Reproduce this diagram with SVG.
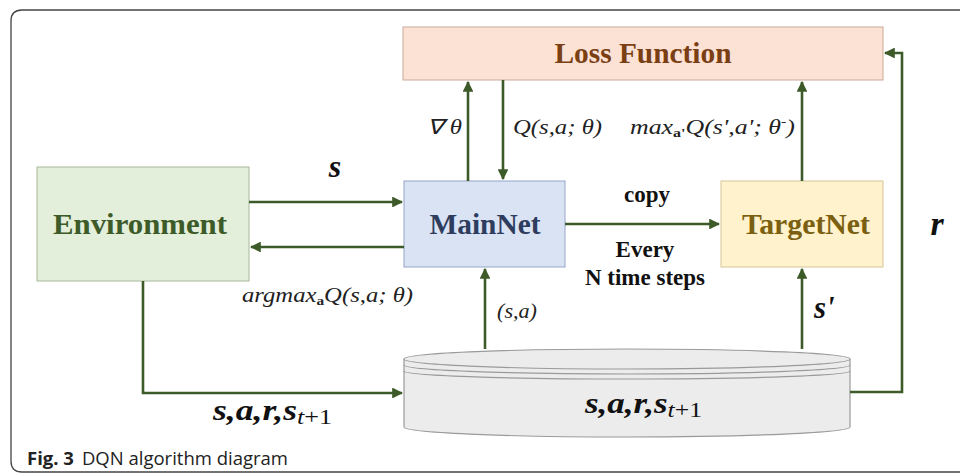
<svg xmlns="http://www.w3.org/2000/svg" width="960" height="474" viewBox="0 0 960 474">
<defs>
<marker id="ah" viewBox="0 0 10 10" refX="9" refY="5" markerWidth="4.2" markerHeight="4.2" orient="auto" markerUnits="strokeWidth">
<path d="M0,0 L10,5 L0,10 z" fill="#3d5a29"/>
</marker>
<style>
.c{fill:none;stroke:#3d5a29;stroke-width:2.6;marker-end:url(#ah)}
.nt{font-family:"Liberation Serif","Times New Roman",serif;font-weight:bold;font-size:29px;text-anchor:middle}
.lb{font-family:"Liberation Serif","Times New Roman",serif;font-style:italic;font-size:21px;fill:#222}
.bi{font-family:"Liberation Serif","Times New Roman",serif;font-style:italic;font-weight:bold;fill:#111}
.bs{font-family:"Liberation Serif","Times New Roman",serif;font-weight:bold;font-size:23px;fill:#111;text-anchor:middle}
</style>
</defs>
<rect width="960" height="474" fill="#fff"/>
<path d="M960,10 H22 Q11,10 11,21 V461 Q11,472 22,472 H960" fill="none" stroke="#444" stroke-width="1.3"/>

<g id="loss">
<rect x="403" y="27" width="480" height="53" fill="#fbe2d5" stroke="#c9a999" stroke-width="1"/>
<text class="nt" x="643" y="63" fill="#7b3f14" textLength="177" lengthAdjust="spacingAndGlyphs">Loss Function</text>
</g>
<g id="env">
<rect x="37" y="167" width="212" height="114" fill="#e3efda" stroke="#a7b89c" stroke-width="1"/>
<text class="nt" x="140" y="234" fill="#3d5a29" textLength="174" lengthAdjust="spacingAndGlyphs">Environment</text>
</g>
<g id="main">
<rect x="404" y="181" width="161" height="86" fill="#dae3f3" stroke="#94a6c8" stroke-width="1"/>
<text class="nt" x="485" y="234" fill="#2e3d5e" textLength="111" lengthAdjust="spacingAndGlyphs">MainNet</text>
</g>
<g id="target">
<rect x="721" y="181" width="162" height="86" fill="#fff2cc" stroke="#d6c596" stroke-width="1"/>
<text class="nt" x="806" y="234" fill="#7a6010" textLength="128" lengthAdjust="spacingAndGlyphs">TargetNet</text>
</g>
<g id="replay">
<path d="M404,359 V427 A223,10 0 0 0 850,427 V359" fill="#ececec" stroke="#9a9a9a" stroke-width="1.2"/>
<ellipse cx="627" cy="359" rx="223" ry="10" fill="#ececec" stroke="#9a9a9a" stroke-width="1.2"/>
<path d="M404,365 A223,9 0 0 0 850,365" fill="none" stroke="#9a9a9a" stroke-width="1.2"/>
<path d="M404,371 A223,8 0 0 0 850,371" fill="none" stroke="#9a9a9a" stroke-width="1.2"/>
<text class="bi" x="585" y="413" font-size="30" textLength="117" lengthAdjust="spacingAndGlyphs">s,a,r,s<tspan font-size="22" dy="4" font-weight="normal">t</tspan><tspan font-size="22" font-style="normal" font-weight="normal">+1</tspan></text>
</g>

<g id="connectors">
<path class="c" d="M249,202 H402"/>
<path class="c" d="M404,247 H251"/>
<path class="c" d="M468,181 V82"/>
<path class="c" d="M503,80 V179"/>
<path class="c" d="M802,181 V82"/>
<path class="c" d="M565,224 H719"/>
<path class="c" d="M485,349 V269"/>
<path class="c" d="M802,349 V269"/>
<path class="c" d="M143,281 V393 H402"/>
<path class="c" d="M850,392 H902 V53 H885"/>
</g>

<g id="labels">
<text class="bi" x="335" y="177" font-size="32" text-anchor="middle">s</text>
<text class="lb" x="242" y="302" textLength="171" lengthAdjust="spacingAndGlyphs">argmax<tspan font-size="13" font-style="normal" font-weight="bold" dy="3">a</tspan><tspan dy="-3">Q(s,a;  θ)</tspan></text>
<text class="lb" x="427" y="134" textLength="35" lengthAdjust="spacingAndGlyphs">∇ θ</text>
<text class="lb" x="513" y="134" textLength="89" lengthAdjust="spacingAndGlyphs">Q(s,a;  θ)</text>
<text class="lb" x="630" y="134" textLength="165" lengthAdjust="spacingAndGlyphs">max<tspan font-size="13" font-style="normal" font-weight="bold" dy="3">a'</tspan><tspan dy="-3">Q(s',a';  θ</tspan><tspan font-size="13" dy="-8">-</tspan><tspan dy="8">)</tspan></text>
<text class="bs" x="647" y="202">copy</text>
<text class="bs" x="645" y="257">Every</text>
<text class="bs" x="645" y="285">N time steps</text>
<text class="lb" x="497" y="318" textLength="40" lengthAdjust="spacingAndGlyphs">(s,a)</text>
<text class="bi" x="814" y="318" font-size="31">s'</text>
<text class="bi" x="937" y="235" font-size="34" text-anchor="middle">r</text>
<text class="bi" x="213" y="420" font-size="30" textLength="119" lengthAdjust="spacingAndGlyphs">s,a,r,s<tspan font-size="22" dy="4" font-weight="normal">t</tspan><tspan font-size="22" font-style="normal" font-weight="normal">+1</tspan></text>
</g>
<text x="27" y="465" font-family="'Open Sans',sans-serif" font-size="18.5" fill="#222"><tspan font-weight="bold">Fig. 3</tspan><tspan dx="8">DQN algorithm diagram</tspan></text>
</svg>
